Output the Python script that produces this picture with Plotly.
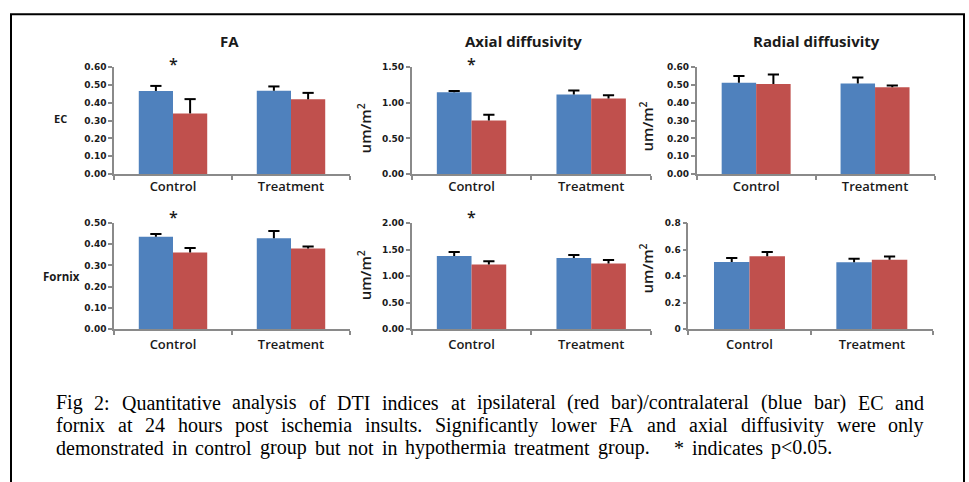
import plotly.graph_objects as go

W, H = 969, 482

categories = ["Control", "Treatment"]

# EC row (blue = contralateral, red = ipsilateral)
fa_ec_blue = [0.466, 0.467]
fa_ec_blue_err = [0.028, 0.024]
fa_ec_red = [0.340, 0.419]
fa_ec_red_err = [0.080, 0.036]

ax_ec_blue = [1.148, 1.116]
ax_ec_blue_err = [0.015, 0.055]
ax_ec_red = [0.750, 1.060]
ax_ec_red_err = [0.080, 0.045]

rd_ec_blue = [0.512, 0.508]
rd_ec_blue_err = [0.037, 0.033]
rd_ec_red = [0.505, 0.486]
rd_ec_red_err = [0.053, 0.011]

# Fornix row
fa_fx_blue = [0.435, 0.429]
fa_fx_blue_err = [0.013, 0.034]
fa_fx_red = [0.361, 0.380]
fa_fx_red_err = [0.022, 0.009]

ax_fx_blue = [1.379, 1.342]
ax_fx_blue_err = [0.074, 0.058]
ax_fx_red = [1.219, 1.237]
ax_fx_red_err = [0.061, 0.068]

rd_fx_blue = [0.507, 0.505]
rd_fx_blue_err = [0.030, 0.025]
rd_fx_red = [0.549, 0.524]
rd_fx_red_err = [0.032, 0.023]

panel_titles = ["FA", "Axial diffusivity", "Radial diffusivity"]
row_labels = ["EC", "Fornix"]
unit_label = "um/m<sup>2</sup>"
y_ranges = [0.6, 1.5, 0.6, 0.5, 2.0, 0.8]
y_dticks = [0.1, 0.5, 0.1, 0.1, 0.5, 0.2]
y_formats = [".2f", ".2f", ".2f", ".2f", ".2f", ""]
significant = [True, True, False, True, True, False]

caption_lines = [
    "Fig 2: Quantitative analysis of DTI indices at ipsilateral (red bar)/contralateral (blue bar) EC and",
    "fornix at 24 hours post ischemia insults. Significantly lower FA and axial diffusivity were only",
    "demonstrated in control group but not in hypothermia treatment group.   * indicates p<0.05.",
]

BLUE = "#4F81BD"
RED = "#C0504D"
AXIS = "#8A8A8A"
TXT = "#1a1a1a"


def px(x):
    return x / W


def py(y):
    return 1 - y / H


# Times / Liberation Serif advance widths (1/1000 em) used to justify the caption
TIMES_W = {
    "a": 444, "b": 500, "c": 444, "d": 500, "e": 444, "f": 333, "g": 500, "h": 500, "i": 278,
    "j": 278, "k": 500, "l": 278, "m": 778, "n": 500, "o": 500, "p": 500, "q": 500, "r": 333,
    "s": 389, "t": 278, "u": 500, "v": 500, "w": 722, "x": 500, "y": 500, "z": 444,
    "A": 722, "C": 667, "D": 722, "E": 611, "F": 556, "I": 333, "Q": 722, "S": 556, "T": 611,
    ":": 278, ".": 250, "(": 333, ")": 333, "/": 278, "<": 564, "*": 500, " ": 250,
}


def text_w(s, size):
    return sum(TIMES_W.get(c, 500) for c in s) * size / 1000.0


# domains in pixels
x_domains = [(114, 350), (411.7, 651), (696.7, 934.5),
             (114, 350), (411.7, 651), (688.3, 933)]
y_domains = [(63.3, 172.7)] * 3 + [(222.7, 331)] * 3

blues = [fa_ec_blue, ax_ec_blue, rd_ec_blue, fa_fx_blue, ax_fx_blue, rd_fx_blue]
blue_errs = [fa_ec_blue_err, ax_ec_blue_err, rd_ec_blue_err, fa_fx_blue_err, ax_fx_blue_err, rd_fx_blue_err]
reds = [fa_ec_red, ax_ec_red, rd_ec_red, fa_fx_red, ax_fx_red, rd_fx_red]
red_errs = [fa_ec_red_err, ax_ec_red_err, rd_ec_red_err, fa_fx_red_err, ax_fx_red_err, rd_fx_red_err]

fig = go.Figure()
layout = dict(
    width=W, height=H, autosize=False,
    margin=dict(l=0, r=0, t=0, b=0),
    paper_bgcolor="white", plot_bgcolor="white",
    barmode="group", bargap=0.42, bargroupgap=0.0,
    scattermode="group", scattergap=0.42,
    showlegend=False,
)

annotations = []
for i in range(6):
    n = "" if i == 0 else str(i + 1)
    xa, ya = "x" + n, "y" + n
    for grp, vals, errs, col in (("contra", blues[i], blue_errs[i], BLUE), ("ipsi", reds[i], red_errs[i], RED)):
        fig.add_trace(go.Bar(
            x=categories, y=vals, xaxis=xa, yaxis=ya, offsetgroup=grp,
            marker=dict(color=col, line=dict(width=0)),
            error_y=dict(type="data", array=errs, arrayminus=[0] * len(errs), symmetric=False,
                         color="black", thickness=2, width=0),
            hoverinfo="skip",
        ))
    for grp, vals, errs in (("contra", blues[i], blue_errs[i]), ("ipsi", reds[i], red_errs[i])):
        fig.add_trace(go.Scatter(
            x=categories, y=[v + e for v, e in zip(vals, errs)], xaxis=xa, yaxis=ya,
            offsetgroup=grp, mode="markers",
            marker=dict(symbol="line-ew", size=8, color="black", line=dict(width=2, color="black")),
            hoverinfo="skip",
        ))
    xd, yd = x_domains[i], y_domains[i]
    layout["xaxis" + n] = dict(
        domain=[px(xd[0]), px(xd[1])], anchor=ya,
        type="category", showline=True, linecolor=AXIS, linewidth=1.5,
        ticks="outside", tickson="boundaries", ticklen=4, tickcolor=AXIS, tickwidth=1.5,
        ticklabelstandoff=0 if i < 3 else 3,
        tickfont=dict(family="Open Sans", size=13, color=TXT, weight=600),
        showgrid=False, zeroline=False, fixedrange=True,
    )
    layout["yaxis" + n] = dict(
        domain=[py(yd[1]), py(yd[0])], anchor=xa,
        range=[0, y_ranges[i]], dtick=y_dticks[i], tick0=0, tickformat=y_formats[i],
        showline=True, linecolor=AXIS, linewidth=1.5,
        ticks="outside", ticklen=4, tickcolor=AXIS, tickwidth=1.5,
        tickfont=dict(family="DejaVu Sans", size=9, color=TXT, weight="bold"),
        showgrid=False, zeroline=False, fixedrange=True,
    )
    if significant[i]:
        annotations.append(dict(
            x="Control", xref=xa, y=py(60 if i < 3 else 217), yref="paper",
            text="*", showarrow=False, xanchor="center", yanchor="middle",
            font=dict(family="Open Sans", size=16, color=TXT, weight=600),
        ))

# panel titles
for t, cx in zip(panel_titles, [229, 523, 816]):
    annotations.append(dict(
        x=px(cx), y=py(37), xref="paper", yref="paper", text=t, showarrow=False,
        xanchor="center", yanchor="middle",
        font=dict(family="Open Sans", size=15, color=TXT, weight="bold"),
    ))

# row labels
annotations.append(dict(x=px(60), y=py(116), xref="paper", yref="paper", text=row_labels[0],
                        showarrow=False, xanchor="center", yanchor="middle",
                        font=dict(family="Open Sans", size=11, color=TXT, weight="bold")))
annotations.append(dict(x=px(62), y=py(277), xref="paper", yref="paper", text=row_labels[1],
                        showarrow=False, xanchor="center", yanchor="middle",
                        font=dict(family="Open Sans", size=11.5, color=TXT, weight="bold")))

# unit labels
for cx, cy in [(364, 126), (646, 124), (364, 276), (646, 269)]:
    annotations.append(dict(
        x=px(cx), y=py(cy), xref="paper", yref="paper", text=unit_label,
        showarrow=False, textangle=-90, xanchor="center", yanchor="middle",
        font=dict(family="Open Sans", size=15, color=TXT, weight=600),
    ))

# caption: justified word by word between the left margin and each line's right end
CAP_SIZE = 20
cap_font = dict(family="Liberation Serif", size=CAP_SIZE, color="black")
line_left = 57
line_rights = [925, 925, 833]
line_ys = [406, 429, 452]
for line, right, cy in zip(caption_lines, line_rights, line_ys):
    tokens = line.split(" ")
    words = [t for t in tokens if t]
    slots = []
    cnt = 0
    for t in tokens:
        if t:
            slots.append(cnt)
            cnt = 0
        cnt += 1
    slots[0] = 0
    total_w = sum(text_w(w, CAP_SIZE) for w in words)
    n_slots = sum(slots)
    gap = (right - line_left - total_w) / n_slots
    x = line_left
    for w, s in zip(words, slots):
        x += s * gap
        annotations.append(dict(
            x=px(x - 3), y=py(cy), xref="paper", yref="paper", text=w, showarrow=False,
            xanchor="left", yanchor="middle", font=cap_font,
        ))
        x += text_w(w, CAP_SIZE)

layout["annotations"] = annotations
layout["shapes"] = [dict(
    type="rect", xref="paper", yref="paper",
    x0=px(11), x1=px(964), y0=-0.05, y1=py(9.5),
    line=dict(color="black", width=2), fillcolor="rgba(0,0,0,0)",
)]

fig.update_layout(**layout)
fig.write_html(
    "out.html",
    config={"displayModeBar": False},
    post_script="document.body.style.margin='0';document.body.style.padding='0';document.body.style.overflow='hidden';",
)
